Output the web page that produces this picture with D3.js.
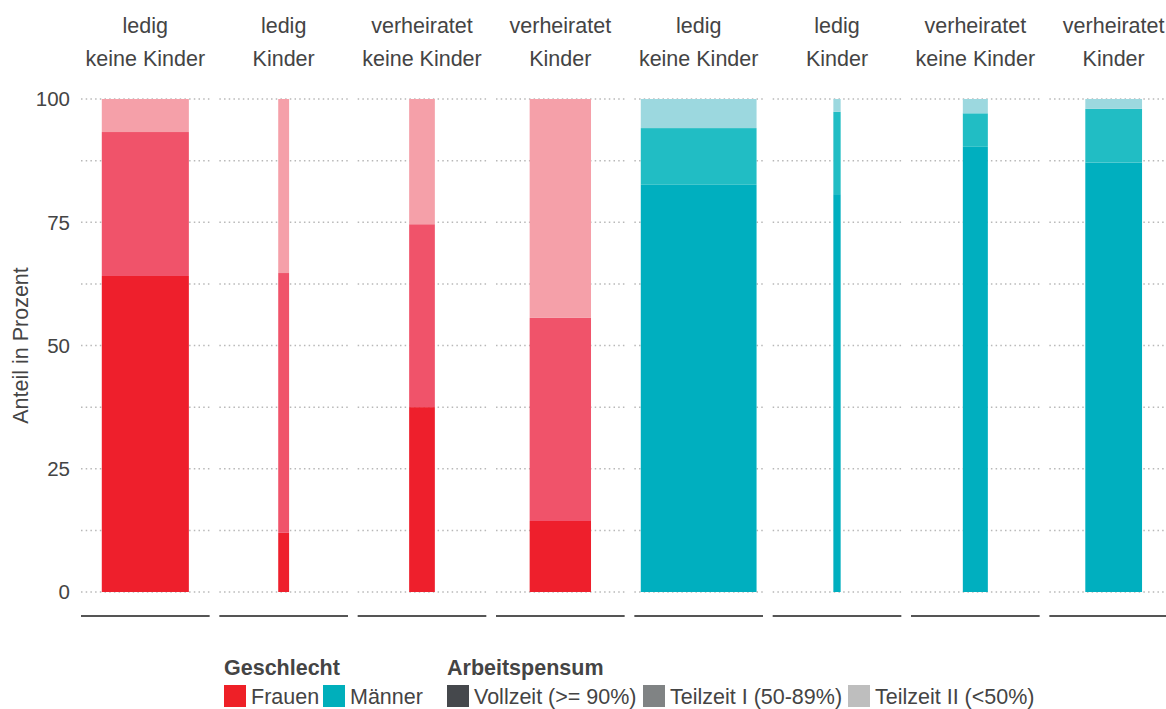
<!DOCTYPE html>
<html lang="de">
  <head>
    <meta charset="UTF-8" />
    <title>Arbeitspensum nach Geschlecht</title>
    <script src="https://d3js.org/d3.v7.min.js"></script>
    <style>
      body {
        margin: 0;
        background: #fff;
      }
      svg text {
        font-family: "Liberation Sans", Arial, sans-serif;
        fill: #444;
      }
    </style>
  </head>
  <body>
    <div id="chart"></div>

    <script>
      // facet categories
      const geschlecht = ["Frauen", "Frauen", "Frauen", "Frauen", "Männer", "Männer", "Männer", "Männer"];
      const zivilstand = ["ledig", "ledig", "verheiratet", "verheiratet", "ledig", "ledig", "verheiratet", "verheiratet"];
      const kinder = ["keine Kinder", "Kinder", "keine Kinder", "Kinder", "keine Kinder", "Kinder", "keine Kinder", "Kinder"];

      // shares in percent per Arbeitspensum
      const vollzeit = [64.1, 12.0, 37.5, 14.4, 82.6, 80.7, 90.3, 87.1];
      const teilzeit1 = [29.2, 52.7, 37.1, 41.2, 11.5, 16.7, 6.8, 10.9];
      const teilzeit2 = [6.7, 35.3, 25.4, 44.4, 5.9, 2.6, 2.9, 2.0];

      // relative group size (drives bar width)
      const gruppe = [752, 94, 222, 530, 1000, 63, 216, 490];

      const pensumLabels = ["Vollzeit (>= 90%)", "Teilzeit I (50-89%)", "Teilzeit II (<50%)"];
      const yTicks = [0, 25, 50, 75, 100];

      const colors = {
        Frauen: ["#ee1f2c", "#f0536a", "#f5a0a9"],
        Männer: ["#00afbf", "#21bdc4", "#9cd8df"],
      };
      const legendSex = { Frauen: "#ee2027", Männer: "#00afbb" };
      const legendPensum = ["#45484c", "#808384", "#bebebe"];

      const width = 1166;
      const height = 709;

      const rows = geschlecht.map((g, i) => ({
        id: i,
        geschlecht: g,
        zivilstand: zivilstand[i],
        kinder: kinder[i],
        n: gruppe[i],
        v: vollzeit[i],
        t1: teilzeit1[i],
        t2: teilzeit2[i],
      }));

      const svg = d3
        .select("#chart")
        .append("svg")
        .attr("width", width)
        .attr("height", height);

      const x = d3
        .scaleBand()
        .domain(rows.map((d) => d.id))
        .range([81, 1178])
        .paddingInner(0.07);

      const y = d3.scaleLinear().domain([0, 100]).range([592, 99]);

      const w = d3
        .scaleLinear()
        .domain([0, d3.max(gruppe)])
        .range([0, x.bandwidth() * 0.9]);

      const stack = d3.stack().keys(["v", "t1", "t2"]);
      const series = stack(rows);

      // panels: gridlines + bottom line
      const panel = svg
        .append("g")
        .selectAll("g")
        .data(rows)
        .join("g")
        .attr("transform", (d) => `translate(${x(d.id)},0)`);

      panel
        .selectAll("line.grid")
        .data(d3.range(0, 100.1, 12.5))
        .join("line")
        .attr("class", "grid")
        .attr("x1", 0)
        .attr("x2", x.bandwidth())
        .attr("y1", (d) => y(d))
        .attr("y2", (d) => y(d))
        .attr("stroke", "#b8b8b8")
        .attr("stroke-width", 1.5)
        .attr("stroke-dasharray", "1.5 3.2");

      panel
        .append("line")
        .attr("x1", 0)
        .attr("x2", x.bandwidth())
        .attr("y1", 616)
        .attr("y2", 616)
        .attr("stroke", "#555")
        .attr("stroke-width", 2);

      // facet labels
      const strip = panel
        .append("text")
        .attr("text-anchor", "middle")
        .style("font-size", "21.5px");
      strip
        .append("tspan")
        .attr("x", x.bandwidth() / 2)
        .attr("y", 33)
        .text((d) => d.zivilstand);
      strip
        .append("tspan")
        .attr("x", x.bandwidth() / 2)
        .attr("y", 66)
        .text((d) => d.kinder);

      // bars
      svg
        .append("g")
        .selectAll("g")
        .data(series)
        .join("g")
        .selectAll("rect")
        .data((s, k) => s.map((p) => ({ p, k, d: p.data })))
        .join("rect")
        .attr("x", (e) => x(e.d.id) + x.bandwidth() / 2 - w(e.d.n) / 2)
        .attr("width", (e) => w(e.d.n))
        .attr("y", (e) => y(e.p[1]))
        .attr("height", (e) => y(e.p[0]) - y(e.p[1]))
        .attr("fill", (e) => colors[e.d.geschlecht][e.k]);

      // y axis labels
      svg
        .append("g")
        .selectAll("text")
        .data(yTicks)
        .join("text")
        .attr("x", 70)
        .attr("y", (d) => y(d))
        .attr("dy", "0.36em")
        .attr("text-anchor", "end")
        .style("font-size", "20.5px")
        .text((d) => d);

      svg
        .append("text")
        .attr("transform", `translate(28,${y(50)}) rotate(-90)`)
        .attr("text-anchor", "middle")
        .style("font-size", "21.5px")
        .text("Anteil in Prozent");

      // legend
      const legend = svg.append("g");
      legend
        .append("text")
        .attr("x", 224)
        .attr("y", 675)
        .style("font-size", "21.5px")
        .style("font-weight", "bold")
        .text("Geschlecht");
      legend
        .append("text")
        .attr("x", 447)
        .attr("y", 675)
        .style("font-size", "21.5px")
        .style("font-weight", "bold")
        .text("Arbeitspensum");

      const sexItems = [
        { label: "Frauen", color: legendSex.Frauen, x: 224 },
        { label: "Männer", color: legendSex.Männer, x: 323 },
      ];
      const pensumItems = pensumLabels.map((l, i) => ({
        label: l,
        color: legendPensum[i],
        x: [447, 643, 848][i],
      }));

      const items = legend
        .selectAll("g.item")
        .data(sexItems.concat(pensumItems))
        .join("g")
        .attr("class", "item")
        .attr("transform", (d) => `translate(${d.x},685)`);
      items
        .append("rect")
        .attr("width", 22)
        .attr("height", 22)
        .attr("fill", (d) => d.color);
      items
        .append("text")
        .attr("x", 27)
        .attr("y", 19)
        .style("font-size", "21.5px")
        .text((d) => d.label);
    </script>
  </body>
</html>
